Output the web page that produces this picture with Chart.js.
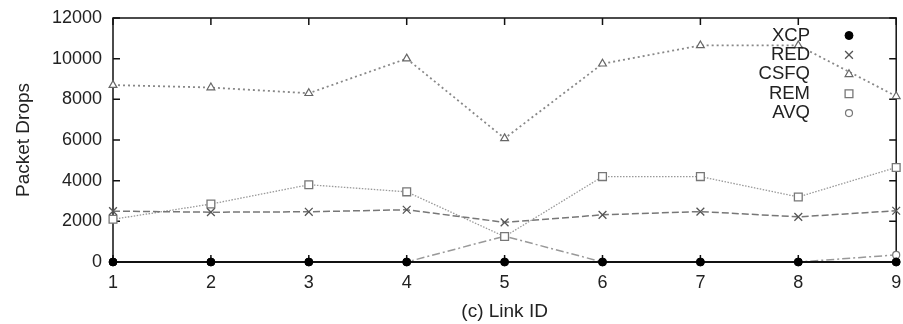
<!DOCTYPE html>
<html>
<head>
<meta charset="utf-8">
<script src="https://cdn.jsdelivr.net/npm/chart.js@4"></script>
<style>
  body { margin: 0; background: #fff; }
  #wrap { width: 903px; height: 324px; }
</style>
</head>
<body>
<div id="wrap"><canvas id="myChart"></canvas></div>
<script>
var linkIds = ['1', '2', '3', '4', '5', '6', '7', '8', '9'];
var yTicks = [0, 2000, 4000, 6000, 8000, 10000, 12000];

var xcpDrops  = [0, 0, 0, 0, 0, 0, 0, 0, 0];
var redDrops  = [2500, 2450, 2470, 2570, 1950, 2320, 2480, 2220, 2520];
var csfqDrops = [8700, 8580, 8300, 10000, 6080, 9750, 10650, 10650, 8150];
var remDrops  = [2100, 2850, 3800, 3450, 1250, 4200, 4200, 3200, 4650];
var avqDrops  = [0, 0, 0, 0, 1270, 0, 0, 0, 350];

var FONT = 'Liberation Sans, Arial, Helvetica, sans-serif';

// gnuplot style frame with inward ticks on all four sides
var framePlugin = {
  id: 'frame',
  beforeDatasetsDraw: function(chart) {
    var ctx = chart.ctx, a = chart.chartArea;
    var xs = chart.scales.x, ys = chart.scales.y;
    var tl = 7;
    ctx.save();
    ctx.strokeStyle = '#111';
    ctx.lineWidth = 1.5;
    ctx.strokeRect(a.left, a.top, a.right - a.left, a.bottom - a.top);
    ctx.beginPath();
    yTicks.forEach(function(v) {
      var py = ys.getPixelForValue(v);
      ctx.moveTo(a.left, py); ctx.lineTo(a.left + tl, py);
      ctx.moveTo(a.right, py); ctx.lineTo(a.right - tl, py);
    });
    linkIds.forEach(function(l, i) {
      var px = xs.getPixelForValue(i);
      ctx.moveTo(px, a.bottom); ctx.lineTo(px, a.bottom - tl);
      ctx.moveTo(px, a.top); ctx.lineTo(px, a.top + tl);
    });
    ctx.stroke();
    ctx.restore();
  }
};

// key: text right aligned, symbol on the right, no line sample
var keyPlugin = {
  id: 'key',
  afterDraw: function(chart) {
    var ctx = chart.ctx;
    ctx.save();
    ctx.font = '18.5px ' + FONT;
    ctx.textAlign = 'right';
    ctx.textBaseline = 'middle';
    chart.data.datasets.forEach(function(ds, i) {
      var y = 35.5 + i * 19.4;
      ctx.fillStyle = '#222';
      ctx.fillText(ds.label, 810, y);
      ctx.strokeStyle = ds.pointBorderColor;
      ctx.fillStyle = ds.pointBackgroundColor;
      ctx.lineWidth = ds.pointBorderWidth;
      Chart.helpers.drawPoint(ctx, {
        pointStyle: ds.pointStyle,
        radius: ds.pointRadius,
        rotation: 0,
        borderWidth: ds.pointBorderWidth
      }, 849, y);
    });
    ctx.restore();
  }
};

function makeChart() {
  var ctx = document.getElementById('myChart').getContext('2d');
  var myChart = new Chart(ctx, {
    type: 'line',
    data: {
      labels: linkIds,
      datasets: [{
        label: 'XCP',
        data: xcpDrops,
        borderColor: '#111',
        borderWidth: 2,
        pointStyle: 'circle',
        pointRadius: 4,
        pointBackgroundColor: '#000',
        pointBorderColor: '#000',
        pointBorderWidth: 1
      }, {
        label: 'RED',
        data: redDrops,
        borderColor: '#777',
        borderWidth: 1.5,
        borderDash: [7, 3],
        pointStyle: 'crossRot',
        pointRadius: 5.5,
        pointBackgroundColor: '#555',
        pointBorderColor: '#555',
        pointBorderWidth: 1.3
      }, {
        label: 'CSFQ',
        data: csfqDrops,
        borderColor: '#888',
        borderWidth: 1.8,
        borderDash: [2, 3],
        pointStyle: 'triangle',
        pointRadius: 4.5,
        pointBackgroundColor: '#fff',
        pointBorderColor: '#666',
        pointBorderWidth: 1.2
      }, {
        label: 'REM',
        data: remDrops,
        borderColor: '#999',
        borderWidth: 1.3,
        borderDash: [1.5, 1.5],
        pointStyle: 'rect',
        pointRadius: 5.5,
        pointBackgroundColor: '#fff',
        pointBorderColor: '#777',
        pointBorderWidth: 1.3
      }, {
        label: 'AVQ',
        data: avqDrops,
        borderColor: '#999',
        borderWidth: 1.5,
        borderDash: [8, 3, 2, 3],
        pointStyle: 'circle',
        pointRadius: 3.5,
        pointBackgroundColor: '#fff',
        pointBorderColor: '#777',
        pointBorderWidth: 1.2
      }]
    },
    options: {
      responsive: true,
      maintainAspectRatio: false,
      animation: false,
      clip: false,
      layout: { padding: { top: 18, right: 3, left: 0, bottom: 0 } },
      plugins: {
        legend: { display: false },
        tooltip: { enabled: false }
      },
      elements: { line: { tension: 0, fill: false } },
      scales: {
        x: {
          type: 'category',
          offset: false,
          grid: { display: false, drawTicks: false },
          border: { display: false },
          ticks: {
            autoSkip: false, maxRotation: 0, padding: 10,
            color: '#222', font: { family: FONT, size: 18 }
          },
          title: {
            display: true, text: '(c) Link ID', color: '#222',
            font: { family: FONT, size: 19 },
            padding: { top: 0, bottom: 1 }
          },
          afterFit: function(s) {
            s.height = 62;
            s.paddingLeft = 0;
            s.paddingRight = 0;
          }
        },
        y: {
          min: 0,
          max: 12000,
          grid: { display: false, drawTicks: false },
          border: { display: false },
          afterBuildTicks: function(s) {
            s.ticks = yTicks.map(function(v) { return { value: v }; });
          },
          ticks: {
            padding: 11, color: '#222',
            font: { family: FONT, size: 18 },
            callback: function(v) { return String(v); }
          },
          title: {
            display: true, text: 'Packet Drops', color: '#222',
            font: { family: FONT, size: 19 },
            padding: { top: 12, bottom: 0 }
          },
          afterFit: function(s) {
            s.width = 113;
            s.paddingTop = 0;
            s.paddingBottom = 0;
          }
        }
      }
    },
    plugins: [framePlugin, keyPlugin]
  });
}

makeChart();
</script>
</body>
</html>
